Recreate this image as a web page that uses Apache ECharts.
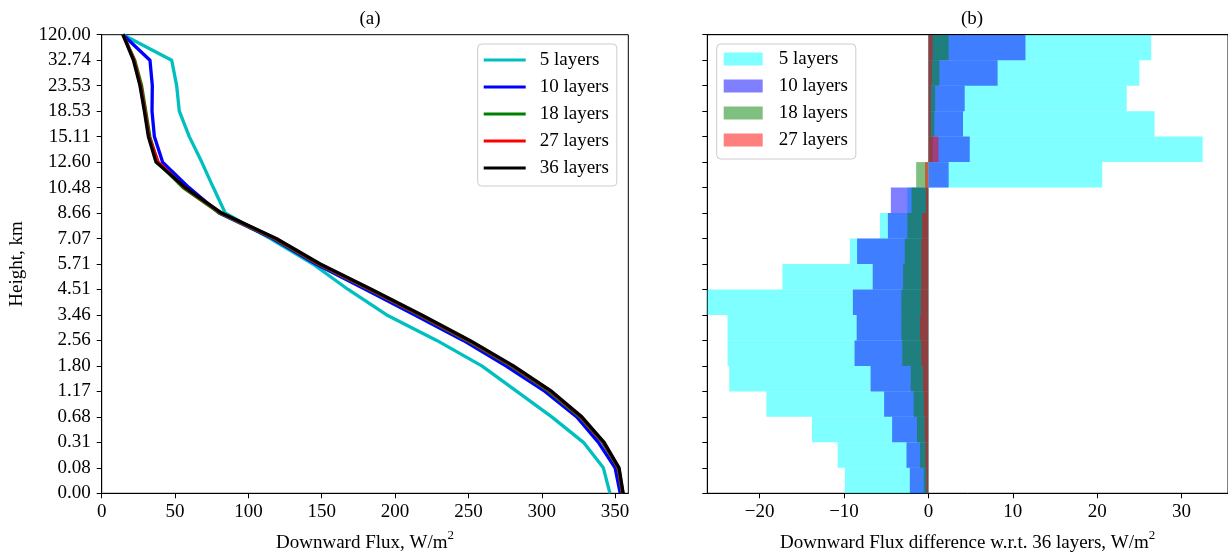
<!DOCTYPE html>
<html><head><meta charset="utf-8">
<script src="https://cdn.jsdelivr.net/npm/echarts@6/dist/echarts.min.js"></script>
<style>html,body{margin:0;padding:0;background:#fff}#c{width:1228px;height:558px}</style>
</head><body><div id="c"></div>
<script>
// Height level tick labels (bottom -> top)
const heightLabels = ['0.00','0.08','0.31','0.68','1.17','1.80','2.56','3.46','4.51','5.71','7.07','8.66','10.48','12.60','15.11','18.53','23.53','32.74','120.00'];
const levelIndex = [0,1,2,3,4,5,6,7,8,9,10,11,12,13,14,15,16,17,18];
const binIndex = ['b0','b1','b2','b3','b4','b5','b6','b7','b8','b9','b10','b11','b12','b13','b14','b15','b16','b17'];
const seriesNames = ['5 layers','10 layers','18 layers','27 layers','36 layers'];
const fluxTicks = [0,50,100,150,200,250,300,350];
const diffTicks = [-20,-10,0,10,20,30];

// Panel (a): downward flux, W/m^2, at each level (bottom -> top)
const flux5  = [346.5, 342.0, 328.4, 306.8, 283.0, 259.1, 228.4, 194.3, 168.0, 144.0, 115.0, 84.2, 76.1, 68.2, 59.7, 52.9, 51.1, 47.7, 14.5];
const flux10 = [353.5, 350.0, 338.6, 323.9, 302.2, 275.5, 246.5, 213.5, 180.0, 146.0, 116.5, 80.0, 59.5, 41.5, 35.9, 34.3, 34.5, 32.9, 14.5];
const flux18 = [355.0, 352.0, 341.5, 326.0, 305.0, 279.0, 249.0, 216.5, 182.5, 147.5, 117.5, 80.5, 55.5, 38.0, 32.8, 30.0, 27.2, 22.5, 14.5];
const flux27 = [355.3, 352.4, 342.1, 326.8, 306.2, 280.0, 250.2, 217.4, 183.3, 148.3, 118.3, 81.4, 56.5, 38.5, 32.2, 29.5, 26.5, 22.0, 14.5];
const flux36 = [355.5, 352.7, 342.5, 327.3, 306.8, 280.7, 251.0, 218.2, 184.1, 149.0, 119.0, 81.8, 57.0, 37.0, 31.8, 29.1, 26.1, 21.6, 14.5];

// Panel (b): difference w.r.t. 36 layers, per layer bin (bottom -> top)
const diff5  = [-9.9, -10.75, -13.8, -19.2, -23.6, -23.8, -23.8, -27.5, -17.3, -9.3, -5.75, -2.5, 20.6, 32.5, 26.8, 23.5, 25.0, 26.4];
const diff10 = [-2.2, -2.6, -4.3, -5.25, -6.85, -8.75, -8.5, -8.95, -6.6, -8.45, -4.8, -4.45, 2.4, 4.9, 4.1, 4.3, 8.2, 11.5];
const diff18 = [-0.55, -1.0, -1.35, -1.75, -2.1, -3.1, -3.2, -3.2, -3.0, -2.8, -2.5, -2.0, -1.45, 0.5, 0.7, 0.8, 1.3, 2.4];
const diff27 = [-0.25, -0.35, -0.45, -0.55, -0.65, -0.85, -1.0, -0.9, -0.85, -0.85, -0.75, -0.3, -0.4, 1.2, 0.3, 0.3, 0.4, 0.5];

const FONT = 'Liberation Serif';
const FS = 19;
const lineColors = ['#00bfbf','#0000ff','#008000','#ff0000','#000000'];
const barColors = ['rgba(0,255,255,0.5)','rgba(0,0,255,0.5)','rgba(0,128,0,0.5)','rgba(255,0,0,0.5)'];
const fluxes = [flux5, flux10, flux18, flux27, flux36];
const diffs = [diff5, diff10, diff18, diff27];

const minusFmt = v => (v < 0 ? '\u2212' + Math.abs(v) : String(v));
const txt = {fontFamily: FONT, fontSize: FS, color: '#000'};
const axLine = {show: true, onZero: false, lineStyle: {color: '#000', width: 1}};
const axTick = {show: true, length: 5, lineStyle: {color: '#000', width: 1}};
const nameRich = {
  n: {fontFamily: FONT, fontSize: FS, color: '#000', lineHeight: 27},
  s: {fontFamily: FONT, fontSize: 13, color: '#000', verticalAlign: 'top', lineHeight: 13}
};

const series = [];
fluxes.forEach((f, k) => {
  series.push({
    type: 'line', name: seriesNames[k], xAxisIndex: 0, yAxisIndex: 0,
    data: f.map((v, i) => [v, levelIndex[i]]),
    showSymbol: false, symbol: 'none',
    lineStyle: {color: lineColors[k], width: 3.3},
    itemStyle: {color: lineColors[k]},
    z: 2 + k, animation: false
  });
});
diffs.forEach((d, k) => {
  series.push({
    type: 'bar', name: seriesNames[k] + ' (b)', xAxisIndex: 2, yAxisIndex: 1,
    data: d, barWidth: '100%', barGap: '-100%', barCategoryGap: 0,
    itemStyle: {color: barColors[k]}, z: 2 + k, animation: false, clip: true
  });
});

const chart = echarts.init(document.getElementById('c'), null, {renderer: 'canvas'});
chart.setOption({
  animation: false,
  backgroundColor: '#fff',
  title: [
    {text: '(a)', left: 365, top: 5, textAlign: 'center', textStyle: {fontFamily: FONT, fontSize: FS, fontWeight: 'normal', color: '#000'}},
    {text: '(b)', left: 967, top: 5, textAlign: 'center', textStyle: {fontFamily: FONT, fontSize: FS, fontWeight: 'normal', color: '#000'}}
  ],
  grid: [
    {left: 101.7, top: 34.7, right: 599.7, bottom: 64.7, show: true, borderColor: '#000', borderWidth: 1, containLabel: false},
    {left: 707.3, top: 34.7, right: -6, bottom: 64.7, show: true, borderColor: '#000', borderWidth: 1, containLabel: false}
  ],
  legend: [
    {
      data: seriesNames, orient: 'vertical', left: 477.7, top: 44,
      icon: 'rect', itemWidth: 42, itemHeight: 3, itemGap: 7,
      textStyle: {fontFamily: FONT, fontSize: FS, color: '#000', lineHeight: 20, padding: [0,0,0,9]},
      borderColor: '#cccccc', borderWidth: 1, borderRadius: 4, backgroundColor: '#fff',
      padding: [6, 8, 8, 6], selectedMode: false
    },
    {
      data: seriesNames.slice(0, 4).map(n => n + ' (b)'), orient: 'vertical', left: 716.7, top: 44,
      icon: 'rect', itemWidth: 39, itemHeight: 13, itemGap: 7,
      formatter: n => n.replace(' (b)', ''),
      textStyle: {fontFamily: FONT, fontSize: FS, color: '#000', lineHeight: 20, padding: [0,0,0,11]},
      borderColor: '#cccccc', borderWidth: 1, borderRadius: 4, backgroundColor: '#fff',
      padding: [5, 8, 9, 7], selectedMode: false
    }
  ],
  xAxis: [
    {
      type: 'value', gridIndex: 0, min: 0, max: 359, position: 'bottom',
      axisLine: axLine, axisTick: Object.assign({customValues: fluxTicks}, axTick),
      axisLabel: Object.assign({customValues: fluxTicks, margin: 9}, txt),
      splitLine: {show: false},
      name: '{n|Downward Flux, W/m}{s|2}', nameLocation: 'middle', nameGap: 36,
      nameTextStyle: Object.assign({rich: nameRich}, txt)
    },
    {
      type: 'value', gridIndex: 1, min: -26.2, max: 35.5, position: 'top', z: 10,
      axisLine: axLine, axisTick: {show: false}, axisLabel: {show: false}, splitLine: {show: false}
    },
    {
      type: 'value', gridIndex: 1, min: -26.2, max: 35.5, position: 'bottom',
      axisLine: axLine, axisTick: Object.assign({customValues: diffTicks}, axTick),
      axisLabel: Object.assign({customValues: diffTicks, margin: 9, formatter: minusFmt}, txt),
      splitLine: {show: false},
      name: '{n|Downward Flux difference w.r.t. 36 layers, W/m}{s|2}', nameLocation: 'middle', nameGap: 36,
      nameTextStyle: Object.assign({rich: nameRich}, txt)
    }
  ],
  yAxis: [
    {
      type: 'value', gridIndex: 0, min: 0, max: 18, interval: 1,
      axisLine: axLine, axisTick: axTick,
      axisLabel: Object.assign({margin: 11, formatter: v => heightLabels[v] || ''}, txt),
      splitLine: {show: false},
      name: 'Height, km', nameLocation: 'middle', nameGap: 75, nameRotate: 90, nameTextStyle: txt
    },
    {
      type: 'category', gridIndex: 1, data: binIndex, boundaryGap: true, position: 'left',
      axisLine: axLine, axisTick: Object.assign({alignWithLabel: false, interval: 0}, axTick),
      axisLabel: {show: false}, splitLine: {show: false}
    }
  ],
  series: series
});
</script>
</body></html>
